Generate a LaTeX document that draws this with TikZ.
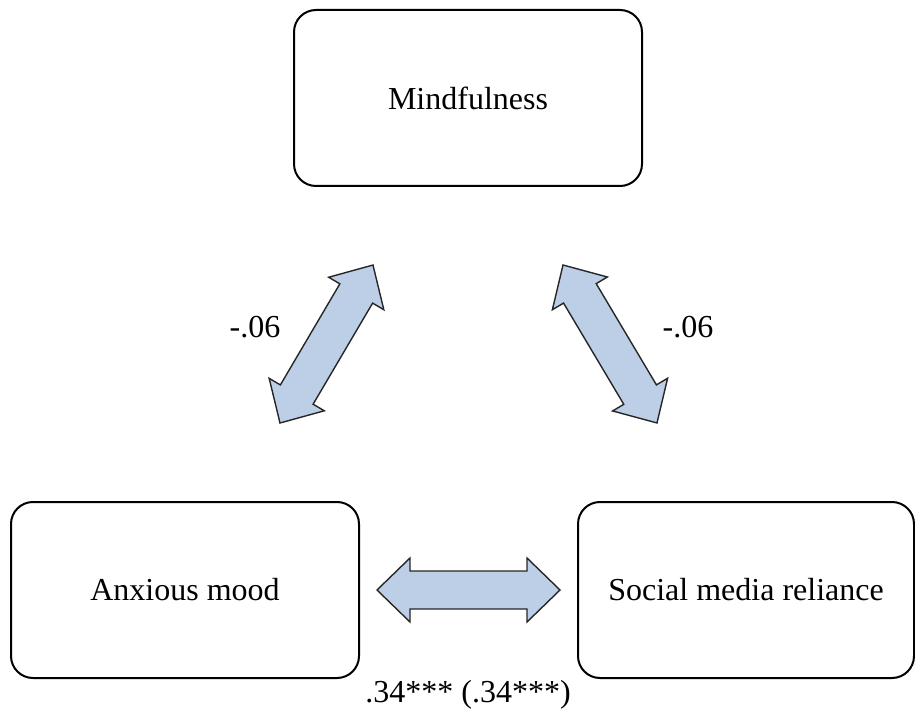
\documentclass[tikz,border=0pt]{standalone}
\usepackage{fontspec}
\setmainfont{Liberation Serif}
\usetikzlibrary{calc}
\definecolor{arrowblue}{RGB}{188,207,231}

\begin{document}
\begin{tikzpicture}[x=0.5pt,y=0.5pt,
  box/.style={draw,rounded corners=11pt,line width=1pt,
    minimum width=174pt,minimum height=88pt,inner sep=0pt},
  blockarrow/.style={draw=black!85,fill=arrowblue,line width=0.7pt,line join=miter},
  lbl/.style={inner sep=0pt,anchor=base}
]
\fontsize{16}{19}\selectfont
\useasboundingbox (0,0) rectangle (915,713);

% the three variables
\node[box] (mind) at (468,615) {Mindfulness};
\node[box] (anx) at (185,123) {Anxious mood};
\node[box,minimum width=168pt] (smr) at (746,123) {Social media reliance};

% tips of the block arrows
\coordinate (l1) at (280,290);
\coordinate (l2) at (373,448);
\coordinate (r1) at (563,448);
\coordinate (r2) at (657,290);
\coordinate (h1) at (377,123);
\coordinate (h2) at (560,123);

% double block arrows between the tips
\foreach \a/\b in {l1/l2,r1/r2,h1/h2}{
  \path[blockarrow] let \p1=($(\b)-(\a)$), \n1={atan2(\y1,\x1)},
      \n2={veclen(\x1,\y1)} in
    [shift={(\a)},rotate=\n1]
    (0,0) -- (16.5pt,16pt) -- (16.5pt,9.5pt) -- (\n2-16.5pt,9.5pt)
    -- (\n2-16.5pt,16pt) -- (\n2,0pt) -- (\n2-16.5pt,-16pt)
    -- (\n2-16.5pt,-9.5pt) -- (16.5pt,-9.5pt) -- (16.5pt,-16pt) -- cycle;
}

% coefficients
\node[lbl] (cl) at (255,375) {-.06};
\node[lbl] (cr) at (688,375) {-.06};
\node[lbl] (ch) at (468,11) {.34*** (.34***)};

\end{tikzpicture}
\end{document}
